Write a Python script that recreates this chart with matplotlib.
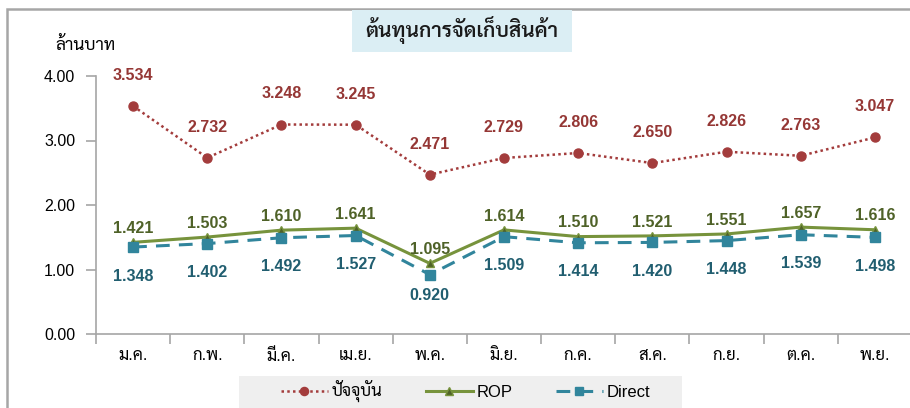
import matplotlib
matplotlib.use("Agg")
import matplotlib.pyplot as plt
from matplotlib.patches import Rectangle

# Monthly storage cost (million baht)
months = ["ม.ค.", "ก.พ.", "มี.ค.", "เม.ย.", "พ.ค.", "มิ.ย.",
          "ก.ค.", "ส.ค.", "ก.ย.", "ต.ค.", "พ.ย."]
current = [3.534, 2.732, 3.248, 3.245, 2.471, 2.729, 2.806, 2.650, 2.826, 2.763, 3.047]
rop = [1.421, 1.503, 1.610, 1.641, 1.095, 1.614, 1.510, 1.521, 1.551, 1.657, 1.616]
direct = [1.348, 1.402, 1.492, 1.527, 0.920, 1.509, 1.414, 1.420, 1.448, 1.539, 1.498]

series_names = ["ปัจจุบัน", "ROP", "Direct"]
title_text = "ต้นทุนการจัดเก็บสินค้า"
unit_text = "ล้านบาท"
yticks = [0.0, 1.0, 2.0, 3.0, 4.0]

plt.rcParams["font.family"] = ["Liberation Sans", "Sarabun"]

RED, RED_TXT = "#a33c3c", "#953735"
GREEN, GREEN_TXT = "#77933c", "#4f6228"
BLUE, BLUE_TXT = "#31859c", "#215e70"

W, H = 910, 408
fig = plt.figure(figsize=(W / 100, H / 100), dpi=100)

# outer chart frame
fig.patches.append(Rectangle((7 / W, -0.1), 1.1, (H - 9) / H + 0.1,
                             transform=fig.transFigure, fill=False,
                             edgecolor="#a6a6a6", linewidth=1.8))

left, right = 96 / W, 912 / W
ax = fig.add_axes([left, (H - 334) / H, right - left, 258 / H])
x = list(range(len(months)))

ax.plot(x, current, linestyle=(0, (1, 1.3)), linewidth=1.8, color=RED,
        marker="o", markersize=6.5, label=series_names[0])
ax.plot(x, rop, linestyle="-", linewidth=2.2, color=GREEN,
        marker="^", markersize=6, markerfacecolor="#4f6228",
        markeredgecolor=GREEN, label=series_names[1])
ax.plot(x, direct, linestyle=(0, (4.5, 3)), linewidth=2.2, color=BLUE,
        marker="s", markersize=7, label=series_names[2])

lbl = dict(ha="center", va="center", fontsize=11.5, fontweight="bold",
           textcoords="offset points")
for i in x:
    ax.annotate(f"{current[i]:.3f}", (i, current[i]), xytext=(0, 22),
                color=RED_TXT, **lbl)
    ax.annotate(f"{rop[i]:.3f}", (i, rop[i]), xytext=(0, 10),
                color=GREEN_TXT, **lbl)
    dy = -15 if direct[i] < 1.0 else -21
    ax.annotate(f"{direct[i]:.3f}", (i, direct[i]), xytext=(0, dy),
                color=BLUE_TXT, **lbl)

ax.set_xlim(-0.5, len(months) - 0.5)
ax.set_ylim(0, 4)
ax.set_yticks(yticks)
ax.set_yticklabels([f"{v:.2f}" for v in yticks], fontsize=11.5)
ax.set_xticks(x)
ax.set_xticklabels(months, fontsize=12)
ax.set_xticks([i + 0.5 for i in range(-1, len(months))], minor=True)
ax.tick_params(axis="x", which="major", length=0, pad=10)
ax.tick_params(axis="x", which="minor", length=7, color="#a6a6a6", width=1.2)
ax.tick_params(axis="y", length=7, color="#a6a6a6", width=1.2, pad=8)
for s in ("top", "right"):
    ax.spines[s].set_visible(False)
for s in ("left", "bottom"):
    ax.spines[s].set_color("#a6a6a6")
    ax.spines[s].set_linewidth(1.2)

# axis unit label
fig.text(55 / W, (H - 45) / H, unit_text, fontsize=12.5, ha="left", va="center")

# title in shaded box
fig.patches.append(Rectangle((352 / W, (H - 52) / H), 220 / W, 42 / H,
                             transform=fig.transFigure, facecolor="#dbeef4",
                             edgecolor="none"))
fig.text(462 / W, (H - 30) / H, title_text, fontsize=15, fontweight="semibold",
         ha="center", va="center", color="#1a1a1a")

# legend sits on a grey band along the bottom
fig.patches.append(Rectangle((239 / W, -0.05), 443 / W, 32 / H + 0.05,
                             transform=fig.transFigure, facecolor="#efefef",
                             edgecolor="none"))
leg = fig.legend(loc="center left", bbox_to_anchor=(281 / W, (H - 392) / H),
                 ncol=3, frameon=False, fontsize=12, handlelength=2.8,
                 columnspacing=2.6, handletextpad=0.25, borderpad=0,
                 borderaxespad=0, markerscale=0.9)

fig.savefig("out.png", dpi=100)
